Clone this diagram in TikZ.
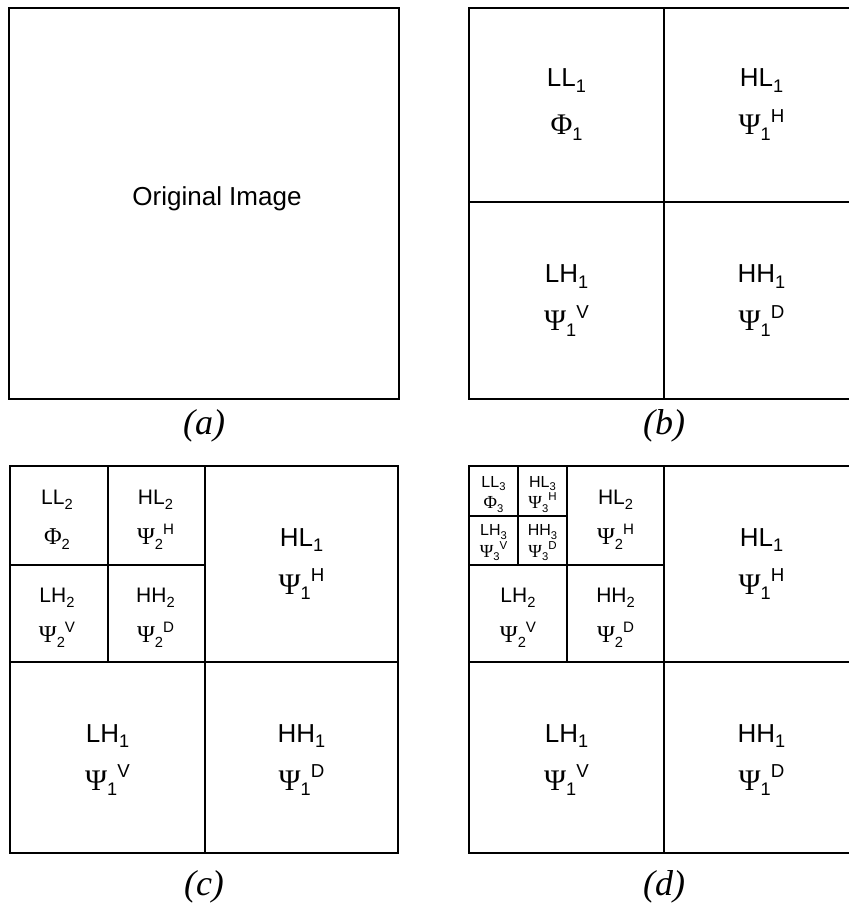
\documentclass[tikz,border=0pt]{standalone}
\usepackage{fontspec}
\setmainfont{Liberation Sans}
\newfontfamily\grk{Liberation Serif}
\newfontfamily\capfont{Liberation Serif}

% sub- and superscript pieces placed one after the other
\newcommand\lo[1]{\raisebox{-0.22em}{\scalebox{0.7}{#1}}}
\newcommand\hi[1]{\raisebox{0.48em}{\scalebox{0.72}{#1}}}
\newcommand\band[2]{#1\lo{#2}}
\newcommand\coef[3]{\scalebox{1.15}{\grk #1}\lo{#2}\hi{#3}}

\tikzset{
  frame/.style={line width=1.8pt, line cap=rect, line join=miter},
  lvone/.style={anchor=base, inner sep=0pt, font=\fontsize{26}{30}\selectfont},
  lvtwo/.style={anchor=base, inner sep=0pt, font=\fontsize{21}{25}\selectfont},
  lvthree/.style={anchor=base, inner sep=0pt, font=\fontsize{16}{19}\selectfont},
  caption/.style={anchor=center, inner sep=0pt, font=\capfont\itshape\fontsize{36}{40}\selectfont}
}

\begin{document}
\begin{tikzpicture}[x=1pt, y=-1pt]
\useasboundingbox (0,0) rectangle (848,909);
\fill[white] (0,0) rectangle (848,909);

% ---------- (a) original image ----------
\draw[frame] (9,8) rectangle (399,399);
\node[lvone] (orig) at (217,206) {Original Image};
\node[caption] (capa) at (204,426) {(a)};

% ---------- (b) one level ----------
\draw[frame] (469,8) rectangle (859,399);
\draw[frame] (664,8) -- (664,399) (469,202) -- (859,202);
\node[lvone] (b-ll)  at (566.5,87)  {\band{LL}{1}};
\node[lvone] (b-llc) at (566.5,135) {\coef{Φ}{1}{}};
\node[lvone] (b-hl)  at (761.5,87)  {\band{HL}{1}};
\node[lvone] (b-hlc) at (761.5,135) {\coef{Ψ}{1}{H}};
\node[lvone] (b-lh)  at (566.5,282.5) {\band{LH}{1}};
\node[lvone] (b-lhc) at (566.5,330.5) {\coef{Ψ}{1}{V}};
\node[lvone] (b-hh)  at (761.5,282.5) {\band{HH}{1}};
\node[lvone] (b-hhc) at (761.5,330.5) {\coef{Ψ}{1}{D}};
\node[caption] (capb) at (664,426) {(b)};

% ---------- (c) two levels ----------
\draw[frame] (10,466) rectangle (398,853);
\draw[frame] (205,466) -- (205,853) (10,662) -- (398,662);
\draw[frame] (108,466) -- (108,662) (10,565) -- (205,565);
\node[lvtwo] (c-ll2)  at (57,504.5)    {\band{LL}{2}};
\node[lvtwo] (c-ll2c) at (57,544.5)    {\coef{Φ}{2}{}};
\node[lvtwo] (c-hl2)  at (155.5,504.5) {\band{HL}{2}};
\node[lvtwo] (c-hl2c) at (155.5,544.5) {\coef{Ψ}{2}{H}};
\node[lvtwo] (c-lh2)  at (57,602.5)    {\band{LH}{2}};
\node[lvtwo] (c-lh2c) at (57,642.5)    {\coef{Ψ}{2}{V}};
\node[lvtwo] (c-hh2)  at (155.5,602.5) {\band{HH}{2}};
\node[lvtwo] (c-hh2c) at (155.5,642.5) {\coef{Ψ}{2}{D}};
\node[lvone] (c-hl)  at (301.5,546)   {\band{HL}{1}};
\node[lvone] (c-hlc) at (301.5,594)   {\coef{Ψ}{1}{H}};
\node[lvone] (c-lh)  at (107.5,742)   {\band{LH}{1}};
\node[lvone] (c-lhc) at (107.5,790)   {\coef{Ψ}{1}{V}};
\node[lvone] (c-hh)  at (301.5,742)   {\band{HH}{1}};
\node[lvone] (c-hhc) at (301.5,790)   {\coef{Ψ}{1}{D}};
\node[caption] (capc) at (204,887) {(c)};

% ---------- (d) three levels ----------
\draw[frame] (469,466) rectangle (859,853);
\draw[frame] (664,466) -- (664,853) (469,662) -- (859,662);
\draw[frame] (567,466) -- (567,662) (469,565) -- (664,565);
\draw[frame] (518,466) -- (518,565) (469,516) -- (567,516);
\node[lvthree] (d-ll3)  at (493.5,487)   {\band{LL}{3}};
\node[lvthree] (d-ll3c) at (493.5,508.5) {\coef{Φ}{3}{}};
\node[lvthree] (d-hl3)  at (542.5,487)   {\band{HL}{3}};
\node[lvthree] (d-hl3c) at (542.5,508.5) {\coef{Ψ}{3}{H}};
\node[lvthree] (d-lh3)  at (493.5,535.5) {\band{LH}{3}};
\node[lvthree] (d-lh3c) at (493.5,557)   {\coef{Ψ}{3}{V}};
\node[lvthree] (d-hh3)  at (542.5,535.5) {\band{HH}{3}};
\node[lvthree] (d-hh3c) at (542.5,557)   {\coef{Ψ}{3}{D}};
\node[lvtwo] (d-hl2)  at (615.5,504.5) {\band{HL}{2}};
\node[lvtwo] (d-hl2c) at (615.5,544.5) {\coef{Ψ}{2}{H}};
\node[lvtwo] (d-lh2)  at (518,602.5)   {\band{LH}{2}};
\node[lvtwo] (d-lh2c) at (518,642.5)   {\coef{Ψ}{2}{V}};
\node[lvtwo] (d-hh2)  at (615.5,602.5) {\band{HH}{2}};
\node[lvtwo] (d-hh2c) at (615.5,642.5) {\coef{Ψ}{2}{D}};
\node[lvone] (d-hl)  at (761.5,546)   {\band{HL}{1}};
\node[lvone] (d-hlc) at (761.5,594)   {\coef{Ψ}{1}{H}};
\node[lvone] (d-lh)  at (566.5,742)   {\band{LH}{1}};
\node[lvone] (d-lhc) at (566.5,790)   {\coef{Ψ}{1}{V}};
\node[lvone] (d-hh)  at (761.5,742)   {\band{HH}{1}};
\node[lvone] (d-hhc) at (761.5,790)   {\coef{Ψ}{1}{D}};
\node[caption] (capd) at (664,887) {(d)};
\end{tikzpicture}
\end{document}
